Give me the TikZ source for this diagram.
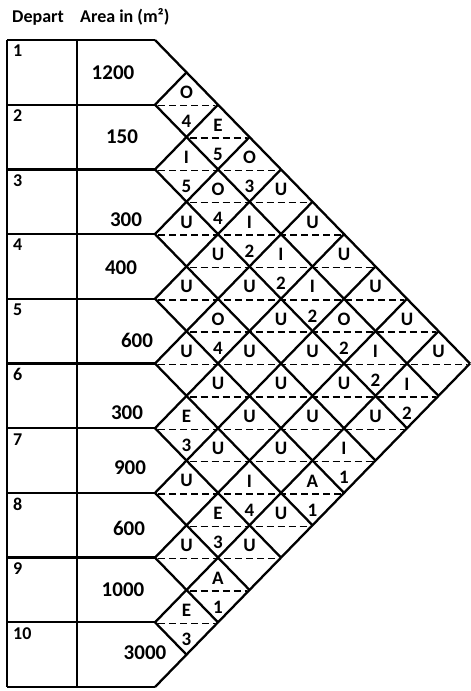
\documentclass[tikz,border=0pt]{standalone}
\usepackage{fontspec}
\setmainfont{Carlito}
\begin{document}
\begin{tikzpicture}[x=1pt,y=-1pt,
  frame/.style={line width=2.3pt,line join=miter},
  dashline/.style={line width=1.4pt,dash pattern=on 7pt off 4pt,shorten <=3pt,shorten >=3pt},
  hdr/.style={font=\fontsize{18}{20}\selectfont\bfseries,inner sep=0pt,anchor=base west},
  dep/.style={font=\fontsize{18}{20}\selectfont\bfseries,inner sep=0pt,anchor=north west},
  area/.style={font=\fontsize{21}{24}\selectfont\bfseries,inner sep=0pt},
  lett/.style={font=\fontsize{19}{21}\selectfont\bfseries,inner sep=0pt},
  numb/.style={font=\fontsize{19}{21}\selectfont\bfseries,inner sep=0pt}]
\useasboundingbox (0,0) rectangle (471,691);
\def\Xo{155}
\def\A{31.5}
\def\T{40}
\def\H{64.7}
\def\Lx{7}
\def\Dx{77}
% header
\node[hdr] (hdep) at (12,22) {Depart};
\node[hdr] (harea) at (80,22) {Area in (m²)};
% horizontal row lines
\foreach \k in {0,...,10}{
  \pgfmathsetmacro\yy{\T+\H*\k}
  \draw[frame] (\Lx,\yy) -- (\Xo,\yy);
}
% vertical lines
\draw[frame] (\Lx,\T) -- (\Lx,{\T+10*\H});
\draw[frame] (\Dx,\T) -- (\Dx,{\T+10*\H});
% diagonal grid: down-right lines
\foreach \k in {0,...,9}{
  \pgfmathsetmacro\yy{\T+\H*\k}
  \pgfmathsetmacro\xe{\Xo+(10-\k)*\A}
  \pgfmathsetmacro\ye{\yy+(10-\k)*\H/2}
  \draw[frame] (\Xo,\yy) -- (\xe,\ye);
}
% diagonal grid: up-right lines
\foreach \k in {1,...,10}{
  \pgfmathsetmacro\yy{\T+\H*\k}
  \pgfmathsetmacro\xe{\Xo+\k*\A}
  \pgfmathsetmacro\ye{\yy-\k*\H/2}
  \draw[frame] (\Xo,\yy) -- (\xe,\ye);
}
% dashed middle lines
\foreach \s in {3,...,19}{
  \pgfmathsetmacro\yy{\T+\H/2*(\s-1)+1}
  \pgfmathsetmacro\xl{ifthenelse(isodd(\s),\Xo,\Xo+\A)}
  \pgfmathsetmacro\xr{ifthenelse(\s<=11,\Xo+(\s-1)*\A,\Xo+(21-\s)*\A)}
  \draw[dashline] (\xl,\yy) -- (\xr,\yy);
}
% department numbers
\foreach \k in {1,...,10}{
  \pgfmathsetmacro\yy{\T+\H*(\k-1)+5}
  \node[dep] (d\k) at (13,\yy) {\k};
}
% areas
\node[area] (a1) at (113,73) {1200};
\node[area] (a2) at (122,137) {150};
\node[area] (a3) at (126,220) {300};
\node[area] (a4) at (121,268) {400};
\node[area] (a5) at (137,340) {600};
\node[area] (a6) at (127,413) {300};
\node[area] (a7) at (130,468) {900};
\node[area] (a8) at (129,528) {600};
\node[area] (a9) at (123,590) {1000};
\node[area] (a10) at (145,653) {3000};
% relationship codes with value
\foreach \i/\j/\l/\n in {1/2/O/4,1/3/E/5,1/4/O/3,2/3/I/5,2/4/O/4,2/5/I/2,2/6/I/2,2/7/I/2,2/8/O/2,2/9/I/2,2/10/I/2,4/6/O/4,4/10/I/1,5/10/A/1,6/7/E/3,6/9/I/4,7/9/E/3,8/10/A/1,9/10/E/3}{
  \pgfmathsetmacro\cx{\Xo+\A*(\j-\i)}
  \pgfmathsetmacro\cy{\T+\H/2*(\i+\j-1)}
  \node[lett] (l\i-\j) at (\cx,\cy-12) {\l};
  \node[numb] (n\i-\j) at (\cx,\cy+17) {\n};
}
% relationship codes U only
\foreach \i/\j in {1/5,1/6,1/7,1/8,1/9,1/10,3/4,3/5,3/6,3/7,3/8,3/9,3/10,4/5,4/7,4/8,4/9,5/6,5/7,5/8,5/9,6/8,6/10,7/8,7/10,8/9}{
  \pgfmathsetmacro\cx{\Xo+\A*(\j-\i)}
  \pgfmathsetmacro\cy{\T+\H/2*(\i+\j-1)}
  \node[lett] (l\i-\j) at (\cx,\cy-12) {U};
}
\end{tikzpicture}
\end{document}
